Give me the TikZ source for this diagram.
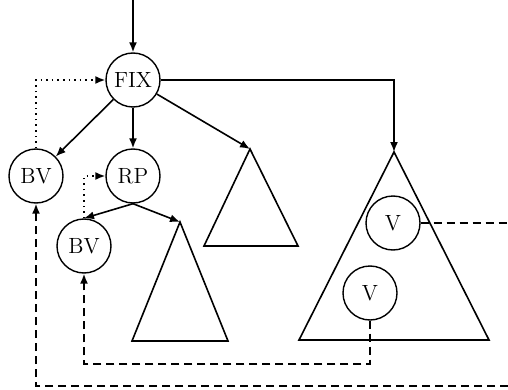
\documentclass[tikz,border=0pt]{standalone}
\usetikzlibrary{arrows.meta}
\begin{document}
\begin{tikzpicture}[x=0.5pt,y=-0.5pt,
  nd/.style={draw,circle,line width=0.7pt,minimum size=27pt,inner sep=0pt,font=\fontsize{11}{13}\selectfont},
  edge/.style={line width=0.8pt,-{Latex[length=5pt,width=4pt]}},
  tri/.style={line width=0.8pt,line join=miter},
  dotline/.style={line width=0.8pt,dotted,-{Latex[length=5pt,width=4pt]}},
  dashline/.style={line width=0.8pt,dash pattern=on 4pt off 2.5pt},
  dasharrow/.style={dashline,-{Latex[length=5pt,width=4pt]}}]
\useasboundingbox (0,0) rectangle (508,390);
% nodes
\node[nd] (FIX) at (133,80) {FIX};
\node[nd] (BV1) at (36,176) {BV};
\node[nd] (RP) at (133,176) {RP};
\node[nd] (BV2) at (84,246) {BV};
\node[nd] (V1) at (393,223) {V};
\node[nd] (V2) at (370,293) {V};
% triangles
\coordinate (T1) at (250,149);
\coordinate (T2) at (180,222);
\coordinate (T3) at (394,152);
\draw[tri] (T1) -- (204,246) -- (298,246) -- cycle;
\draw[tri] (T2) -- (132,341) -- (228,341) -- cycle;
\draw[tri] (T3) -- (299,340) -- (489,340) -- cycle;
% top entry
\coordinate (top) at (133,0);
\draw[edge] (top) -- (FIX.north);
% solid edges
\draw[edge] (FIX) -- (BV1);
\draw[edge] (FIX) -- (RP);
\draw[edge] (FIX) -- (T1);
\draw[edge] (FIX.east) -| (T3);
\draw[edge] (RP.south) -- (BV2.north);
\draw[edge] (RP.south) -- (T2);
% dotted back links
\draw[dotline] (BV1.north) |- (FIX.west);
\draw[dotline] (BV2.north) |- (RP.west);
% dashed links
\coordinate (rightA) at (508,223);
\draw[dashline] (V1.east) -- (rightA);
\coordinate (cornerB) at (370,364);
\draw[dasharrow] (V2.south) -- (cornerB) -| (BV2.south);
\coordinate (rightC) at (508,386);
\draw[dasharrow] (rightC) -| (BV1.south);
\end{tikzpicture}
\end{document}
